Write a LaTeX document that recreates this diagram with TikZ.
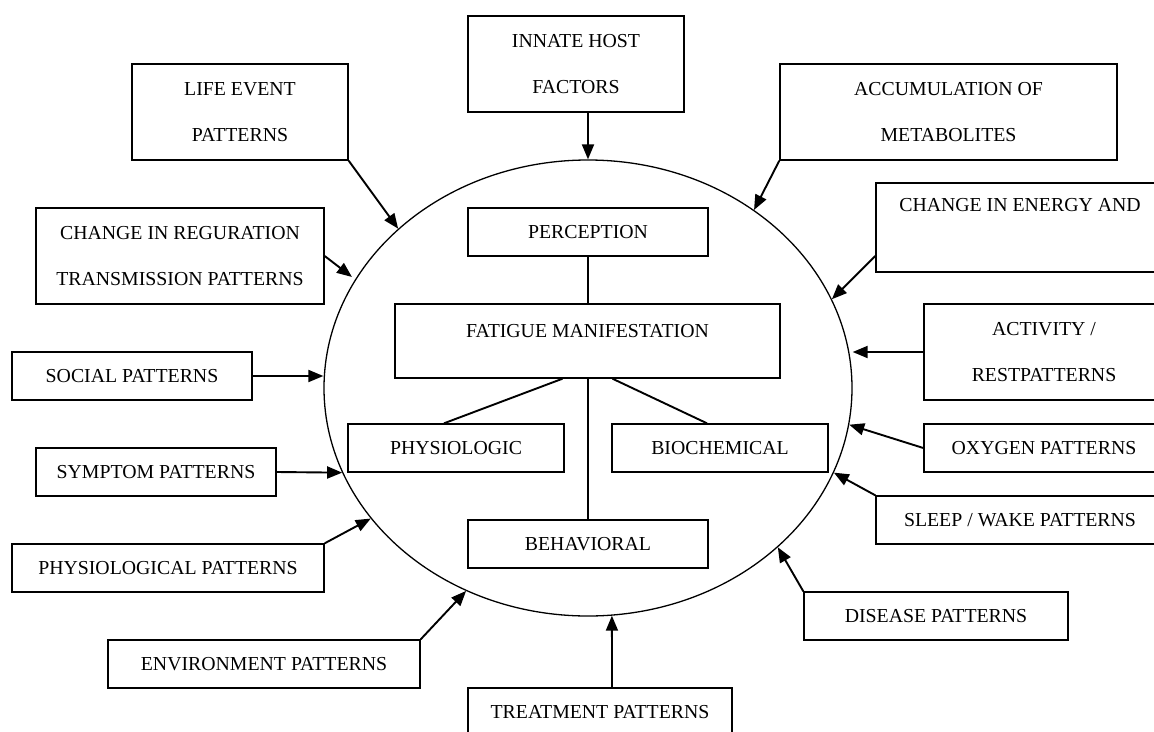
\documentclass[tikz,border=0pt]{standalone}
\usepackage{fontspec}
\setmainfont{Liberation Serif}
\usetikzlibrary{shapes.geometric,arrows.meta}
\tikzset{
  box/.style={draw, line width=1.4pt, rectangle, inner sep=0pt, align=center,
    font=\fontsize{19.8}{46}\selectfont},
  conn/.style={line width=1.9pt},
  arr/.style={line width=1.9pt, -{Triangle[length=15pt,width=12pt]}},
}
\begin{document}
\begin{tikzpicture}[x=1pt,y=-1pt]
\useasboundingbox (0,0) rectangle (1154,731);
\clip (0,0) rectangle (1154,731);
\fill[white] (0,0) rectangle (1154,731);
% central ellipse
\node[draw, ellipse, line width=1.3pt, minimum width=528pt, minimum height=456pt, inner sep=0pt] (ell) at (588,388) {};
% outer boxes
\node[box, minimum width=216pt, minimum height=96pt] (life) at (240,112) {LIFE EVENT\\PATTERNS};
\node[box, minimum width=216pt, minimum height=96pt] (innate) at (576,64) {INNATE HOST\\FACTORS};
\node[box, minimum width=337pt, minimum height=96pt] (accum) at (948.5,112) {ACCUMULATION OF\\METABOLITES};
\node[box, minimum width=288pt, minimum height=96pt] (reg) at (180,256) {CHANGE IN REGURATION\\TRANSMISSION PATTERNS};
\node[box, minimum width=288pt, minimum height=89pt] (energy) at (1020,227.5) {CHANGE IN ENERGY AND\\~};
\node[box, minimum width=240pt, minimum height=96pt] (activity) at (1044,352) {ACTIVITY /\\RESTPATTERNS};
\node[box, minimum width=240pt, minimum height=48pt] (social) at (132,376) {SOCIAL PATTERNS};
\node[box, minimum width=240pt, minimum height=48pt] (oxygen) at (1044,448) {OXYGEN PATTERNS};
\node[box, minimum width=240pt, minimum height=48pt] (symptom) at (156,472) {SYMPTOM PATTERNS};
\node[box, minimum width=288pt, minimum height=48pt] (sleep) at (1020,520) {SLEEP / WAKE PATTERNS};
\node[box, minimum width=312pt, minimum height=48pt] (physl) at (168,568) {PHYSIOLOGICAL PATTERNS};
\node[box, minimum width=264pt, minimum height=48pt] (disease) at (936,616) {DISEASE PATTERNS};
\node[box, minimum width=312pt, minimum height=48pt] (env) at (264,664) {ENVIRONMENT PATTERNS};
\node[box, minimum width=264pt, minimum height=48pt] (treat) at (600,712) {TREATMENT PATTERNS};
% inner boxes
\node[box, minimum width=240pt, minimum height=48pt] (perc) at (588,232) {PERCEPTION};
\node[box, minimum width=385pt, minimum height=74pt, text depth=20pt] (fat) at (587.5,341) {FATIGUE MANIFESTATION};
\node[box, minimum width=216pt, minimum height=48pt] (phys) at (456,448) {PHYSIOLOGIC};
\node[box, minimum width=216pt, minimum height=48pt] (bio) at (720,448) {BIOCHEMICAL};
\node[box, minimum width=240pt, minimum height=48pt] (behav) at (588,544) {BEHAVIORAL};
% inner connectors
\draw[conn] (perc.south) -- (perc.south |- fat.north);
\draw[conn] ([xshift=-25pt]fat.south) -- ([xshift=-12pt]phys.north);
\draw[conn] (behav.north |- fat.south) -- (behav.north);
\draw[conn] ([xshift=25pt]fat.south) -- ([xshift=-13pt]bio.north);
% arrows into ellipse
\draw[arr] (life.south east) -- (ell.140);
\draw[arr] ([xshift=12pt]innate.south) -- (ell.90);
\draw[arr] (accum.south west) -- (ell.47);
\draw[arr] ([yshift=-28.5pt]energy.west) -- (ell.20);
\draw[arr] (activity.west) -- (activity.west -| ell.east);
\draw[arr] (oxygen.west) -- (ell.-8);
\draw[arr] (sleep.north west) -- (ell.-19);
\draw[arr] (disease.north west) -- (ell.-40);
\draw[arr] ([xshift=12pt]treat.north) -- (ell.-84);
\draw[arr] (env.north east) -- (ell.-121);
\draw[arr] (physl.north east) -- (ell.-149);
\draw[arr] (symptom.east) -- (ell.-161);
\draw[arr] (social.east) -- (social.east -| ell.west);
\draw[arr, shorten >=4pt] (reg.east) -- (ell.155);
\end{tikzpicture}
\end{document}
